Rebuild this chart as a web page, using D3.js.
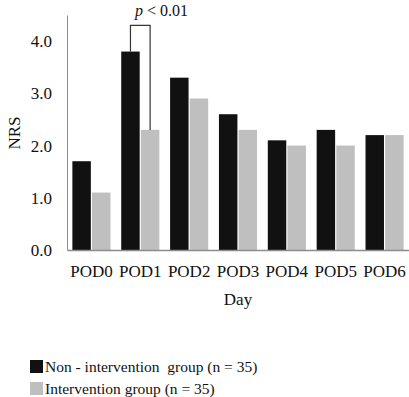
<!DOCTYPE html>
<html>
<head>
<meta charset="utf-8">
<script src="https://cdn.jsdelivr.net/npm/d3@7"></script>
<style>
  body { margin: 0; background: #fff; }
</style>
</head>
<body>
<div id="chart"></div>
<script>
const days = ['POD0', 'POD1', 'POD2', 'POD3', 'POD4', 'POD5', 'POD6'];
const nonIntervention = [1.7, 3.8, 3.3, 2.6, 2.1, 2.3, 2.2];
const intervention = [1.1, 2.3, 2.9, 2.3, 2.0, 2.0, 2.2];
const yTicks = [0, 1, 2, 3, 4];
const seriesNames = ['Non - intervention  group (n = 35)', 'Intervention group (n = 35)'];
const seriesColors = ['#111111', '#bfbfbf'];

const FONT = 'Liberation Serif';
const W = 409, H = 397;
const margin = { top: 15, right: 0, bottom: 147, left: 67 };

const svg = d3.select('#chart')
  .append('svg')
  .attr('width', W)
  .attr('height', H)
  .attr('font-family', FONT);

const x = d3.scaleBand()
  .domain(days)
  .range([margin.left, W - margin.right])
  .paddingInner(0.22)
  .paddingOuter(0.11);

const xSub = d3.scaleBand()
  .domain([0, 1])
  .range([0, x.bandwidth()])
  .paddingInner(0.06);

const y = d3.scaleLinear()
  .domain([0, 4.5])
  .range([H - margin.bottom, margin.top]);

// y axis (labels only, plain line)
const yAxis = svg.append('g')
  .attr('transform', `translate(${margin.left},0)`)
  .call(d3.axisLeft(y).tickValues(yTicks).tickSize(0).tickPadding(15).tickFormat(d3.format('.1f')));
yAxis.attr('font-family', FONT).attr('font-size', 17);
yAxis.select('.domain').attr('stroke', '#8c8c8c');
yAxis.selectAll('text').attr('fill', '#111');

// bars
const data = days.map((d, i) => ({ day: d, values: [nonIntervention[i], intervention[i]] }));
const groups = svg.selectAll('g.grp')
  .data(data)
  .enter()
  .append('g')
  .attr('class', 'grp')
  .attr('transform', d => `translate(${x(d.day)},0)`);

groups.selectAll('rect')
  .data(d => d.values.map((v, k) => ({ v, k })))
  .enter()
  .append('rect')
  .attr('x', d => xSub(d.k))
  .attr('width', xSub.bandwidth())
  .attr('y', d => y(d.v))
  .attr('height', d => y(0) - y(d.v))
  .attr('fill', d => seriesColors[d.k]);

// x axis
const xAxis = svg.append('g')
  .attr('transform', `translate(0,${y(0)})`)
  .call(d3.axisBottom(x).tickSize(0).tickPadding(15));
xAxis.attr('font-family', FONT).attr('font-size', 17);
xAxis.select('.domain').attr('stroke', '#8c8c8c').attr('stroke-width', 1.5);
xAxis.selectAll('text').attr('fill', '#111');

// axis titles
svg.append('text')
  .attr('x', (margin.left + W) / 2)
  .attr('y', 305)
  .attr('text-anchor', 'middle')
  .attr('font-size', 17)
  .attr('fill', '#111')
  .text('Day');

svg.append('text')
  .attr('transform', `translate(20,${133}) rotate(-90)`)
  .attr('text-anchor', 'middle')
  .attr('font-size', 17)
  .attr('fill', '#111')
  .text('NRS');

// significance bracket on POD1
const bx1 = x('POD1') + xSub(0) + xSub.bandwidth() / 2;
const bx2 = x('POD1') + xSub(1) + xSub.bandwidth() / 2;
const byTop = y(4.3);
svg.append('path')
  .attr('d', `M${bx1},${y(nonIntervention[1])}V${byTop}H${bx2}V${y(intervention[1])}`)
  .attr('fill', 'none')
  .attr('stroke', '#333')
  .attr('stroke-width', 1.2);

const pText = svg.append('text')
  .attr('x', 135)
  .attr('y', byTop - 9)
  .attr('font-size', 16)
  .attr('fill', '#111');
pText.append('tspan').attr('font-style', 'italic').text('p');
pText.append('tspan').text(' < 0.01');

// legend
const legend = svg.append('g')
  .selectAll('g')
  .data(seriesNames)
  .enter()
  .append('g')
  .attr('transform', (d, i) => `translate(30,${360 + i * 22})`);
legend.append('rect')
  .attr('width', 13)
  .attr('height', 13)
  .attr('fill', (d, i) => seriesColors[i]);
legend.append('text')
  .attr('x', 15)
  .attr('y', 12)
  .attr('font-size', 15.5)
  .attr('fill', '#111')
  .style('white-space', 'pre')
  .text(d => d);
</script>
</body>
</html>
